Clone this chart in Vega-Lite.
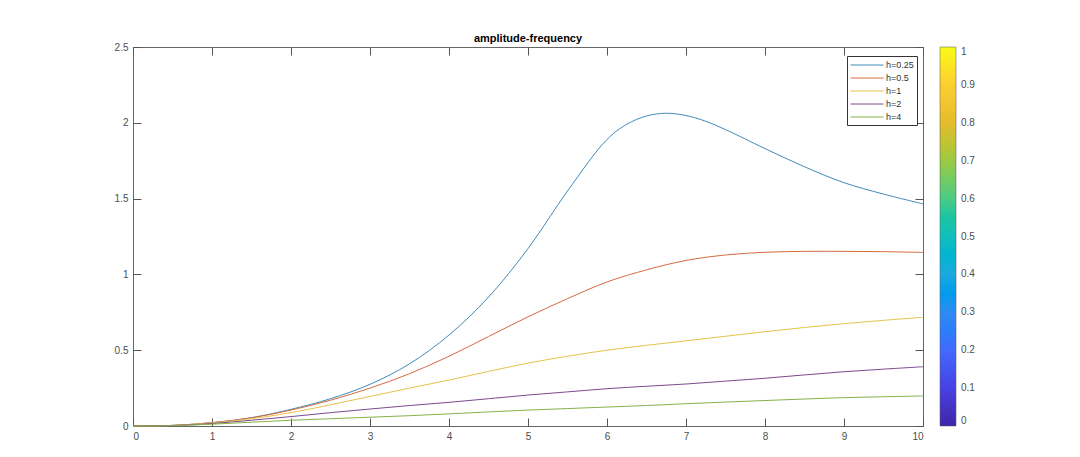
{
  "$schema": "https://vega.github.io/schema/vega-lite/v6.json",
  "autosize": {"type": "none"},
  "padding": {"left": 133, "top": 47, "right": 157, "bottom": 31},
  "width": 790,
  "height": 379,
  "background": "white",
  "title": {
    "text": "amplitude-frequency",
    "font": "Liberation Sans",
    "fontSize": 11,
    "fontWeight": "bold",
    "color": "black",
    "anchor": "middle",
    "offset": -2
  },
  "config": {
    "font": "Liberation Sans",
    "view": {"stroke": "#666", "strokeWidth": 1},
    "axis": {
      "grid": false,
      "labelFont": "Liberation Sans",
      "labelFontSize": 10,
      "labelColor": "#4d4d4d",
      "tickColor": "#555",
      "domain": false,
      "title": null
    }
  },
  "datasets": {
    "curves": [
      {"x": 0, "y": 0, "h": "h=0.25"},
      {"x": 0.5, "y": 0.004, "h": "h=0.25"},
      {"x": 1, "y": 0.022, "h": "h=0.25"},
      {"x": 1.5, "y": 0.055, "h": "h=0.25"},
      {"x": 2, "y": 0.11, "h": "h=0.25"},
      {"x": 2.5, "y": 0.18, "h": "h=0.25"},
      {"x": 3, "y": 0.275, "h": "h=0.25"},
      {"x": 3.5, "y": 0.41, "h": "h=0.25"},
      {"x": 4, "y": 0.6, "h": "h=0.25"},
      {"x": 4.5, "y": 0.85, "h": "h=0.25"},
      {"x": 5, "y": 1.17, "h": "h=0.25"},
      {"x": 5.5, "y": 1.55, "h": "h=0.25"},
      {"x": 6, "y": 1.89, "h": "h=0.25"},
      {"x": 6.25, "y": 1.99, "h": "h=0.25"},
      {"x": 6.5, "y": 2.045, "h": "h=0.25"},
      {"x": 6.75, "y": 2.063, "h": "h=0.25"},
      {"x": 7, "y": 2.048, "h": "h=0.25"},
      {"x": 7.25, "y": 2.01, "h": "h=0.25"},
      {"x": 7.5, "y": 1.955, "h": "h=0.25"},
      {"x": 8, "y": 1.83, "h": "h=0.25"},
      {"x": 8.5, "y": 1.71, "h": "h=0.25"},
      {"x": 9, "y": 1.605, "h": "h=0.25"},
      {"x": 9.5, "y": 1.53, "h": "h=0.25"},
      {"x": 10, "y": 1.465, "h": "h=0.25"},
      {"x": 0, "y": 0, "h": "h=0.5"},
      {"x": 0.5, "y": 0.004, "h": "h=0.5"},
      {"x": 1, "y": 0.022, "h": "h=0.5"},
      {"x": 1.5, "y": 0.054, "h": "h=0.5"},
      {"x": 2, "y": 0.105, "h": "h=0.5"},
      {"x": 2.5, "y": 0.17, "h": "h=0.5"},
      {"x": 3, "y": 0.25, "h": "h=0.5"},
      {"x": 3.5, "y": 0.345, "h": "h=0.5"},
      {"x": 4, "y": 0.46, "h": "h=0.5"},
      {"x": 4.5, "y": 0.59, "h": "h=0.5"},
      {"x": 5, "y": 0.72, "h": "h=0.5"},
      {"x": 5.5, "y": 0.84, "h": "h=0.5"},
      {"x": 6, "y": 0.95, "h": "h=0.5"},
      {"x": 6.5, "y": 1.03, "h": "h=0.5"},
      {"x": 7, "y": 1.092, "h": "h=0.5"},
      {"x": 7.5, "y": 1.128, "h": "h=0.5"},
      {"x": 8, "y": 1.146, "h": "h=0.5"},
      {"x": 8.5, "y": 1.152, "h": "h=0.5"},
      {"x": 9, "y": 1.152, "h": "h=0.5"},
      {"x": 9.5, "y": 1.15, "h": "h=0.5"},
      {"x": 10, "y": 1.145, "h": "h=0.5"},
      {"x": 0, "y": 0, "h": "h=1"},
      {"x": 0.5, "y": 0.004, "h": "h=1"},
      {"x": 1, "y": 0.02, "h": "h=1"},
      {"x": 1.5, "y": 0.048, "h": "h=1"},
      {"x": 2, "y": 0.088, "h": "h=1"},
      {"x": 2.5, "y": 0.14, "h": "h=1"},
      {"x": 3, "y": 0.195, "h": "h=1"},
      {"x": 3.5, "y": 0.25, "h": "h=1"},
      {"x": 4, "y": 0.303, "h": "h=1"},
      {"x": 4.5, "y": 0.36, "h": "h=1"},
      {"x": 5, "y": 0.415, "h": "h=1"},
      {"x": 5.5, "y": 0.46, "h": "h=1"},
      {"x": 6, "y": 0.5, "h": "h=1"},
      {"x": 6.5, "y": 0.532, "h": "h=1"},
      {"x": 7, "y": 0.562, "h": "h=1"},
      {"x": 7.5, "y": 0.592, "h": "h=1"},
      {"x": 8, "y": 0.622, "h": "h=1"},
      {"x": 8.5, "y": 0.65, "h": "h=1"},
      {"x": 9, "y": 0.675, "h": "h=1"},
      {"x": 9.5, "y": 0.697, "h": "h=1"},
      {"x": 10, "y": 0.717, "h": "h=1"},
      {"x": 0, "y": 0, "h": "h=2"},
      {"x": 0.5, "y": 0.003, "h": "h=2"},
      {"x": 1, "y": 0.016, "h": "h=2"},
      {"x": 1.5, "y": 0.038, "h": "h=2"},
      {"x": 2, "y": 0.062, "h": "h=2"},
      {"x": 2.5, "y": 0.088, "h": "h=2"},
      {"x": 3, "y": 0.112, "h": "h=2"},
      {"x": 3.5, "y": 0.135, "h": "h=2"},
      {"x": 4, "y": 0.156, "h": "h=2"},
      {"x": 4.5, "y": 0.18, "h": "h=2"},
      {"x": 5, "y": 0.204, "h": "h=2"},
      {"x": 5.5, "y": 0.225, "h": "h=2"},
      {"x": 6, "y": 0.246, "h": "h=2"},
      {"x": 6.5, "y": 0.262, "h": "h=2"},
      {"x": 7, "y": 0.277, "h": "h=2"},
      {"x": 7.5, "y": 0.296, "h": "h=2"},
      {"x": 8, "y": 0.315, "h": "h=2"},
      {"x": 8.5, "y": 0.337, "h": "h=2"},
      {"x": 9, "y": 0.358, "h": "h=2"},
      {"x": 9.5, "y": 0.375, "h": "h=2"},
      {"x": 10, "y": 0.391, "h": "h=2"},
      {"x": 0, "y": 0, "h": "h=4"},
      {"x": 0.5, "y": 0.002, "h": "h=4"},
      {"x": 1, "y": 0.012, "h": "h=4"},
      {"x": 1.5, "y": 0.025, "h": "h=4"},
      {"x": 2, "y": 0.038, "h": "h=4"},
      {"x": 2.5, "y": 0.048, "h": "h=4"},
      {"x": 3, "y": 0.058, "h": "h=4"},
      {"x": 3.5, "y": 0.068, "h": "h=4"},
      {"x": 4, "y": 0.08, "h": "h=4"},
      {"x": 4.5, "y": 0.093, "h": "h=4"},
      {"x": 5, "y": 0.105, "h": "h=4"},
      {"x": 5.5, "y": 0.115, "h": "h=4"},
      {"x": 6, "y": 0.125, "h": "h=4"},
      {"x": 6.5, "y": 0.135, "h": "h=4"},
      {"x": 7, "y": 0.147, "h": "h=4"},
      {"x": 7.5, "y": 0.158, "h": "h=4"},
      {"x": 8, "y": 0.168, "h": "h=4"},
      {"x": 8.5, "y": 0.178, "h": "h=4"},
      {"x": 9, "y": 0.187, "h": "h=4"},
      {"x": 9.5, "y": 0.193, "h": "h=4"},
      {"x": 10, "y": 0.198, "h": "h=4"}
    ],
    "colorbar": [{"c": 0}, {"c": 1}]
  },
  "resolve": {"axis": {"x": "independent", "y": "independent"}},
  "layer": [
    {
      "data": {"name": "curves"},
      "mark": {"type": "line", "interpolate": "catmull-rom", "strokeWidth": 1},
      "encoding": {
        "x": {
          "field": "x", "type": "quantitative",
          "scale": {"domain": [0, 10], "nice": false},
          "axis": {"values": [0,1,2,3,4,5,6,7,8,9,10], "format": "~r", "offset": -8, "tickSize": 8, "labelPadding": 5}
        },
        "y": {
          "field": "y", "type": "quantitative",
          "scale": {"domain": [0, 2.5], "nice": false},
          "axis": {"values": [0,0.5,1,1.5,2,2.5], "format": "~r", "offset": -8, "tickSize": 8, "labelPadding": 5}
        },
        "stroke": {
          "field": "h", "type": "nominal",
          "scale": {
            "domain": ["h=0.25", "h=0.5", "h=1", "h=2", "h=4"],
            "range": ["#3f8cba", "#d66a40", "#e8c24a", "#7d4a90", "#85b248"]
          },
          "legend": {
            "orient": "none",
            "legendX": 714,
            "legendY": 9,
            "title": null,
            "symbolType": "M-1,0H5",
            "symbolSize": 121,
            "symbolStrokeWidth": 1,
            "labelFontSize": 9,
            "labelColor": "#333",
            "labelOffset": 24,
            "rowPadding": 2,
            "padding": 3,
            "strokeColor": "#333",
            "fillColor": "white"
          }
        }
      }
    },
    {
      "data": {"name": "curves"},
      "mark": {"type": "line", "opacity": 0},
      "encoding": {
        "x": {
          "field": "x", "type": "quantitative",
          "axis": {"orient": "top", "values": [0,1,2,3,4,5,6,7,8,9,10], "labels": false, "offset": -8, "tickSize": 8}
        },
        "y": {
          "field": "y", "type": "quantitative",
          "axis": {"orient": "right", "values": [0,0.5,1,1.5,2,2.5], "labels": false, "offset": -8, "tickSize": 8}
        },
        "detail": {"field": "h"}
      }
    },
    {
      "data": {"name": "colorbar"},
      "mark": {"type": "point", "opacity": 0},
      "encoding": {
        "fill": {
          "field": "c", "type": "quantitative",
          "scale": {
            "domain": [0, 0.1, 0.2, 0.3, 0.4, 0.5, 0.6, 0.7, 0.8, 0.9, 1],
            "range": ["#3e26a8", "#4741e5", "#4269fe", "#2d8cf3", "#1ca9df", "#12bebb", "#4acb84", "#9dc943", "#e6bb2d", "#fccf30", "#f9fb15"]
          },
          "legend": {
            "orient": "none",
            "legendX": 807,
            "legendY": 0,
            "direction": "vertical",
            "title": null,
            "gradientLength": 379,
            "gradientThickness": 16,
            "gradientStrokeColor": "#555",
            "gradientStrokeWidth": 0.5,
            "values": [0, 0.1, 0.2, 0.3, 0.4, 0.5, 0.6, 0.7, 0.8, 0.9, 1],
            "format": "~r",
            "labelFontSize": 10,
            "labelColor": "#4d4d4d",
            "labelOffset": 5,
            "labelOverlap": false
          }
        }
      }
    }
  ]
}
